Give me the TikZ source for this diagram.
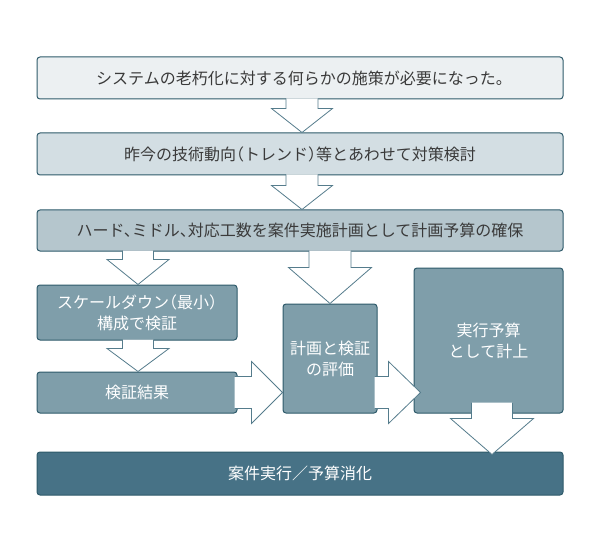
\documentclass[tikz,border=0pt]{standalone}
\usepackage{fontspec}
\setmainfont{Noto Sans CJK JP}[RawFeature=+halt]
\newfontfamily\plainjp{Noto Sans CJK JP}
\usetikzlibrary{calc}

\definecolor{boxline}{HTML}{2E5A6A}
\definecolor{arrowline}{HTML}{557C8C}
\definecolor{tone1}{HTML}{ECF0F2}
\definecolor{tone2}{HTML}{D3DEE3}
\definecolor{tone3}{HTML}{B5C6CD}
\definecolor{tone4}{HTML}{7F9EAA}
\definecolor{tone5}{HTML}{477286}
\definecolor{darktext}{HTML}{3A3A3A}

\tikzset{
  stagebox/.style={draw=boxline, line width=1pt, rounded corners=3pt, inner sep=0pt, align=center},
  lightbox/.style={stagebox, text=darktext, font=\fontsize{16}{20}\selectfont},
  darkbox/.style={stagebox, text=white, font=\fontsize{16}{21}\selectfont},
  blockarrow/.style={fill=white, draw=arrowline, line width=0.8pt, line join=miter},
}

% block arrows: start, tip, half shaft, half head, head length
\newcommand{\flowdown}[5]{%
  \filldraw[blockarrow] let \p1=(#1), \p2=(#2) in
    (\x1-#3,\y1) -- (\x1-#3,\y2+#5) -- (\x1-#4,\y2+#5) -- (\x1,\y2)
    -- (\x1+#4,\y2+#5) -- (\x1+#3,\y2+#5) -- (\x1+#3,\y1);}
\newcommand{\flowright}[5]{%
  \filldraw[blockarrow] let \p1=(#1), \p2=(#2) in
    (\x1,\y1+#3) -- (\x2-#5,\y1+#3) -- (\x2-#5,\y1+#4) -- (\x2,\y1)
    -- (\x2-#5,\y1-#4) -- (\x2-#5,\y1-#3) -- (\x1,\y1-#3);}

\begin{document}
\begin{tikzpicture}[x=1pt,y=1pt]
  \useasboundingbox (0,0) rectangle (600,550);
  % top stages
  \node[lightbox, fill=tone1, minimum width=526, minimum height=42] (need) at (300,472)
    {システムの老朽化に対する何らかの施策が必要になった。};
  \node[lightbox, fill=tone2, minimum width=526, minimum height=42] (trend) at (300,396)
    {昨今の技術動向（トレンド）等とあわせて対策検討};
  \node[lightbox, fill=tone3, minimum width=526, minimum height=41] (plan) at (300,319.5)
    {ハード、ミドル、対応工数を案件実施計画として計画予算の確保};
  % middle stages
  \node[darkbox, fill=tone4, minimum width=200, minimum height=55] (scaledown) at (137,237.5)
    {スケールダウン（最小）\\構成で検証};
  \node[darkbox, fill=tone4, minimum width=200, minimum height=41] (result) at (137,157.5)
    {検証結果};
  \node[darkbox, fill=tone4, minimum width=94, minimum height=109] (review) at (330,191.5)
    {計画と検証\\の評価};
  \node[darkbox, fill=tone4, minimum width=149, minimum height=145] (budget) at (488.5,209.5)
    {実行予算\\として計上};
  % last stage
  \node[darkbox, fill=tone5, minimum width=526, minimum height=43] (run) at (300,76.5)
    {\plainjp 案件実行／予算消化};
  % arrows
  \flowdown{$(need.south)+(2,1)$}{$(trend.north)+(2,0)$}{16pt}{30.5pt}{24pt}
  \flowdown{$(trend.south)+(2,1)$}{$(plan.north)+(2,0)$}{16pt}{30.5pt}{24pt}
  \flowdown{$(scaledown.north |- plan.south)+(1,1)$}{$(scaledown.north)+(1,0)$}{15.5pt}{31pt}{25pt}
  \flowdown{$(scaledown.south)+(1,1)$}{$(result.north)+(1,0)$}{15.5pt}{31pt}{23pt}
  \flowdown{$(review.north |- plan.south)+(0,1)$}{review.north}{21pt}{41.5pt}{36pt}
  \flowright{$(result.east)+(-3,0)$}{review.west |- result.east}{16pt}{31pt}{31pt}
  \flowright{$(review.east |- result.east)+(-3,0)$}{$(budget.west |- result.east)+(7,0)$}{16pt}{31pt}{32pt}
  \flowdown{$(budget.south)+(3.5,11)$}{$(run.north -| budget.south)+(3.5,-3)$}{20.5pt}{41.5pt}{36pt}
\end{tikzpicture}
\end{document}
